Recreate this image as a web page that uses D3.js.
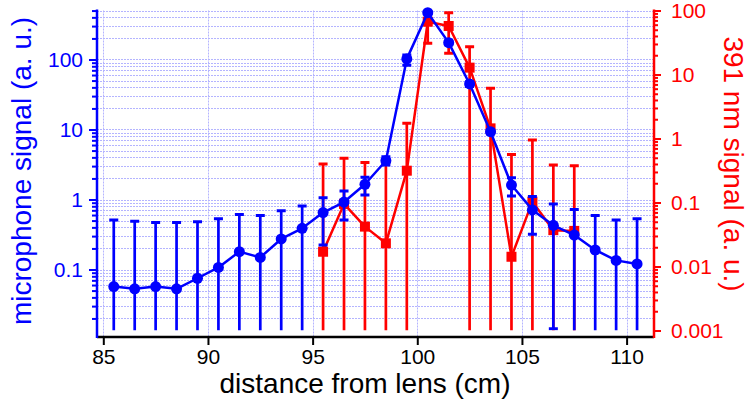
<!DOCTYPE html>
<html>
<head>
<meta charset="utf-8">
<script src="https://cdn.jsdelivr.net/npm/d3@7"></script>
<style>
  body { margin: 0; background: #fff; }
  svg { font-family: "Liberation Sans", Arial, sans-serif; }
</style>
</head>
<body>
<script>
// microphone signal (blue, left axis)
const micX = [85.5, 86.5, 87.5, 88.5, 89.5, 90.5, 91.5, 92.5, 93.5, 94.5, 95.5, 96.5, 97.5,
              98.5, 99.5, 100.5, 101.5, 102.5, 103.5, 104.5, 105.5, 106.5, 107.5, 108.5, 109.5, 110.5];
const micY = [0.057, 0.053, 0.057, 0.053, 0.075, 0.107, 0.18, 0.149, 0.273, 0.388, 0.65, 0.92, 1.65,
              3.58, 102, 466, 174, 44.7, 9.3, 1.61, 0.71, 0.428, 0.311, 0.19, 0.135, 0.12];
const micHi = [0.51, 0.49, 0.47, 0.47, 0.48, 0.53, 0.61, 0.59, 0.69, 0.81, 1.06, 1.32, 2.08,
               4.09, 116, 480, 185, 48, 10, 2.05, 1.1, 0.86, 0.72, 0.59, 0.51, 0.53];
// 0 = error bar runs below the axis
const micLo = [0, 0, 0, 0, 0, 0, 0, 0, 0, 0, 0.224, 0.51, 1.16,
               3.11, 83, 450, 163, 41, 8.6, 1.12, 0.318, 0.0142, 0, 0, 0, 0];

// 391 nm signal (red, right axis)
const uvX = [95.5, 96.5, 97.5, 98.5, 99.5, 100.5, 101.5, 102.5, 103.5, 104.5, 105.5, 106.5, 107.5];
const uvY = [0.017, 0.095, 0.042, 0.023, 0.314, 66.8, 57.3, 12.8, 1.44, 0.0142, 0.103, 0.037, 0.036];
const uvHi = [0.40, 0.49, 0.42, 0.43, 1.73, 93, 92.4, 27.2, 6.09, 0.56, 0.95, 0.385, 0.376];
const uvLo = [0, 0, 0, 0, 0, 30.7, 21.4, 0, 0, 0, 0, 0, 0];

const xTicks = [85, 90, 95, 100, 105, 110];
const leftTicks = [0.1, 1, 10, 100];
const rightTicks = [0.001, 0.01, 0.1, 1, 10, 100];

const w = 752, h = 410;
const pLeft = 97, pRight = 654, pTop = 10.5, pBottom = 330.5, axisY = 337;
const blue = "#0000ff", red = "#ff0000";

const svg = d3.select("body").append("svg")
    .attr("width", w)
    .attr("height", h);

svg.append("rect").attr("width", w).attr("height", h).attr("fill", "#fff");

const x = d3.scaleLinear().domain([85, 110]).range([103.3, 626.6]);
const yL = d3.scaleLog().domain([0.01345, 501]).range([pBottom, pTop]);
const yR = d3.scaleLog().domain([0.001, 100]).range([pBottom, pTop]);

// minor tick values for log axes
const minorTicks = function(scale){
    const [lo, hi] = scale.domain();
    let vals = [];
    for (let d = 0.0001; d <= 1000; d *= 10) {
        for (let m = 1; m <= 9; m++) {
            const v = +(m * d).toPrecision(3);
            if (v >= lo * 0.999 && v <= hi * 1.001) vals.push(v);
        }
    }
    return vals;
}

// grid
const grid = svg.append("g").attr("stroke", "#a8a8ff").attr("stroke-width", 1)
    .attr("stroke-dasharray", "2,1").attr("opacity", 0.85);

grid.selectAll("line.h")
    .data(minorTicks(yL))
    .enter()
    .append("line")
    .attr("class", "h")
    .attr("x1", pLeft).attr("x2", pRight)
    .attr("y1", d => Math.round(yL(d)) + 0.5).attr("y2", d => Math.round(yL(d)) + 0.5);

grid.selectAll("line.v")
    .data(xTicks)
    .enter()
    .append("line")
    .attr("class", "v")
    .attr("x1", d => Math.round(x(d)) + 0.5).attr("x2", d => Math.round(x(d)) + 0.5)
    .attr("y1", pTop).attr("y2", axisY);

svg.append("clipPath").attr("id", "clip")
    .append("rect").attr("x", pLeft).attr("y", pTop - 8).attr("width", pRight - pLeft).attr("height", pBottom - pTop + 8);

const plot = svg.append("g").attr("clip-path", "url(#clip)");

const drawSeries = function(xs, ys, his, los, scale, color, marker){
    const g = plot.append("g");
    const pts = xs.map((d, i) => ({x: d, y: ys[i], hi: his[i], lo: los[i]}));
    const lowest = scale.domain()[0];

    // error bars
    g.selectAll("line.err")
        .data(pts)
        .enter()
        .append("line")
        .attr("class", "err")
        .attr("x1", d => x(d.x)).attr("x2", d => x(d.x))
        .attr("y1", d => scale(d.hi))
        .attr("y2", d => d.lo > lowest ? scale(d.lo) : pBottom)
        .attr("stroke", color).attr("stroke-width", 2.7);

    g.selectAll("line.capHi")
        .data(pts)
        .enter()
        .append("line")
        .attr("class", "capHi")
        .attr("x1", d => x(d.x) - 4.5).attr("x2", d => x(d.x) + 4.5)
        .attr("y1", d => scale(d.hi)).attr("y2", d => scale(d.hi))
        .attr("stroke", color).attr("stroke-width", 3);

    g.selectAll("line.capLo")
        .data(pts.filter(d => d.lo > lowest))
        .enter()
        .append("line")
        .attr("class", "capLo")
        .attr("x1", d => x(d.x) - 4.5).attr("x2", d => x(d.x) + 4.5)
        .attr("y1", d => scale(d.lo)).attr("y2", d => scale(d.lo))
        .attr("stroke", color).attr("stroke-width", 3);

    const line = d3.line().x(d => x(d.x)).y(d => scale(d.y));
    g.append("path")
        .datum(pts)
        .attr("d", line)
        .attr("fill", "none")
        .attr("stroke", color)
        .attr("stroke-width", 2.5)
        .attr("stroke-linejoin", "round");

    if (marker === "circle") {
        g.selectAll("circle")
            .data(pts)
            .enter()
            .append("circle")
            .attr("cx", d => x(d.x)).attr("cy", d => scale(d.y))
            .attr("r", 5.5)
            .attr("fill", color);
    } else {
        g.selectAll("rect")
            .data(pts)
            .enter()
            .append("rect")
            .attr("x", d => x(d.x) - 5).attr("y", d => scale(d.y) - 5)
            .attr("width", 10).attr("height", 10)
            .attr("fill", color);
    }
}

drawSeries(uvX, uvY, uvHi, uvLo, yR, red, "square");
drawSeries(micX, micY, micHi, micLo, yL, blue, "circle");

// axes
const fmt = d => String(d);

const xAxis = d3.axisBottom(x).tickValues(xTicks).tickSize(8).tickPadding(4).tickFormat(d3.format("d"));
const gx = svg.append("g").attr("transform", `translate(0, ${axisY})`).call(xAxis);
gx.select(".domain").remove();
gx.selectAll("line").attr("stroke", "#000").attr("stroke-width", 2);
gx.selectAll("text").attr("font-size", 21).attr("fill", "#000").attr("font-family", "Liberation Sans");

const gyMinor = svg.append("g").attr("transform", `translate(${pLeft}, 0)`)
    .call(d3.axisLeft(yL).tickValues(minorTicks(yL)).tickSize(5).tickFormat(""));
const gy = svg.append("g").attr("transform", `translate(${pLeft}, 0)`)
    .call(d3.axisLeft(yL).tickValues(leftTicks).tickSize(8).tickPadding(6).tickFormat(fmt));
[gyMinor, gy].forEach(g => {
    g.select(".domain").remove();
    g.selectAll("line").attr("stroke", blue).attr("stroke-width", 2);
});
gy.selectAll("text").attr("font-size", 21).attr("fill", blue).attr("font-family", "Liberation Sans");

const grMinor = svg.append("g").attr("transform", `translate(${pRight}, 0)`)
    .call(d3.axisRight(yR).tickValues(minorTicks(yR)).tickSize(4).tickFormat(""));
const gr = svg.append("g").attr("transform", `translate(${pRight}, 0)`)
    .call(d3.axisRight(yR).tickValues(rightTicks).tickSize(7).tickPadding(10).tickFormat(fmt));
[grMinor, gr].forEach(g => {
    g.select(".domain").remove();
    g.selectAll("line").attr("stroke", red).attr("stroke-width", 2);
});
gr.selectAll("text").attr("font-size", 21).attr("fill", red).attr("font-family", "Liberation Sans");

// axis lines
svg.append("line").attr("x1", pLeft).attr("x2", pRight).attr("y1", axisY).attr("y2", axisY)
    .attr("stroke", "#000").attr("stroke-width", 2.5);
svg.append("line").attr("x1", pLeft).attr("x2", pLeft).attr("y1", pTop - 1).attr("y2", axisY + 1)
    .attr("stroke", blue).attr("stroke-width", 2.5);
svg.append("line").attr("x1", pRight).attr("x2", pRight).attr("y1", pTop - 1).attr("y2", axisY + 1)
    .attr("stroke", red).attr("stroke-width", 2.5);

// titles
svg.append("text")
    .attr("x", 365)
    .attr("y", 393)
    .attr("text-anchor", "middle")
    .attr("font-size", 28)
    .attr("fill", "#000")
    .text("distance from lens (cm)");

svg.append("text")
    .attr("transform", "translate(31, 171) rotate(-90)")
    .attr("text-anchor", "middle")
    .attr("font-size", 28)
    .attr("fill", blue)
    .text("microphone signal (a. u.)");

svg.append("text")
    .attr("transform", "translate(724, 164) rotate(90)")
    .attr("text-anchor", "middle")
    .attr("font-size", 28)
    .attr("fill", red)
    .text("391 nm signal (a. u.)");
</script>
</body>
</html>
